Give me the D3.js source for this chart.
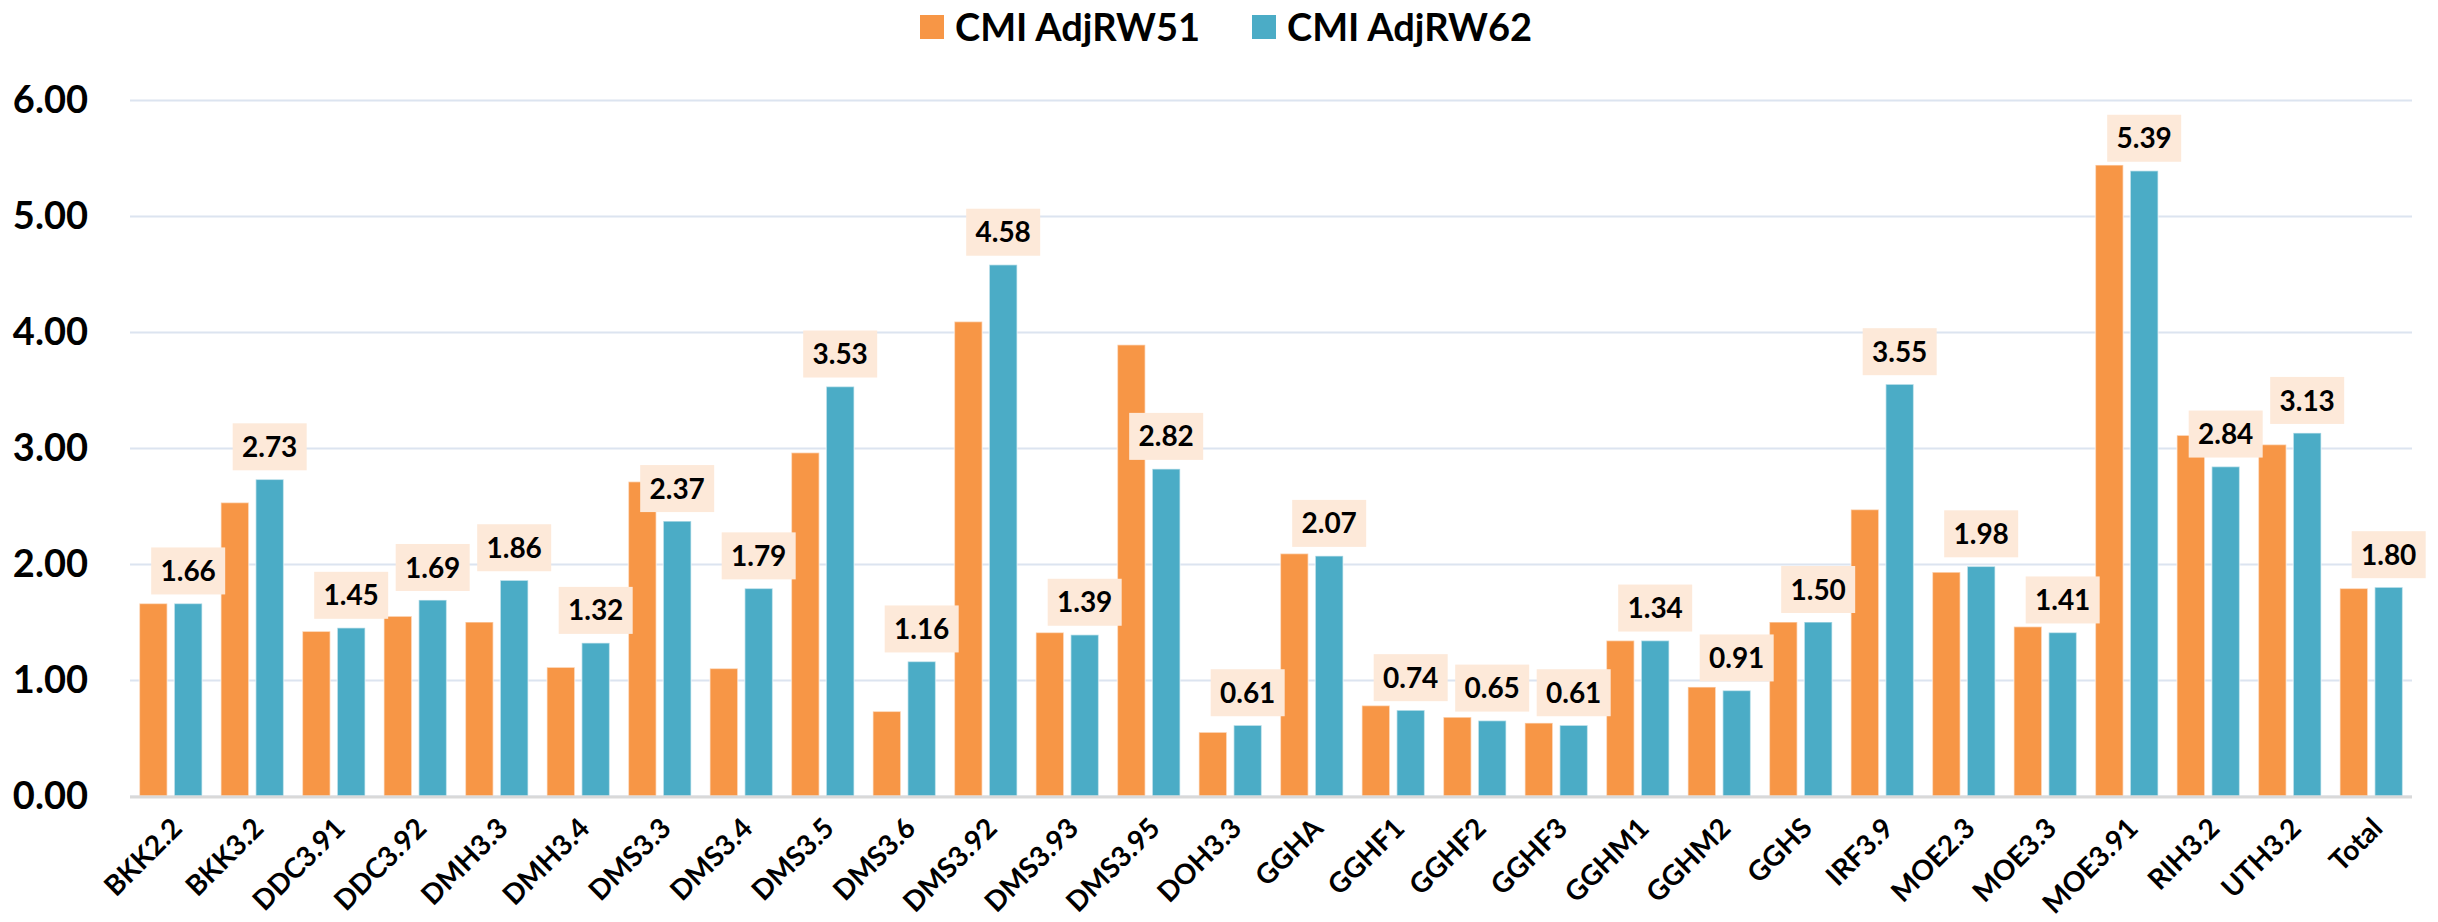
<!DOCTYPE html>
<html lang="en">
<head>
<meta charset="UTF-8">
<title>CMI AdjRW51 vs AdjRW62</title>
<script src="https://d3js.org/d3.v7.min.js"></script>
<style>
  body { margin: 0; background: #fff; }
  text { font-family: Lato, "Open Sans", sans-serif; font-weight: 700; fill: #000; }
</style>
</head>
<body>
<svg id="chart"></svg>
<script>
// data
var categories = ["BKK2.2", "BKK3.2", "DDC3.91", "DDC3.92", "DMH3.3", "DMH3.4", "DMS3.3", "DMS3.4",
  "DMS3.5", "DMS3.6", "DMS3.92", "DMS3.93", "DMS3.95", "DOH3.3", "GGHA", "GGHF1", "GGHF2", "GGHF3",
  "GGHM1", "GGHM2", "GGHS", "IRF3.9", "MOE2.3", "MOE3.3", "MOE3.91", "RIH3.2", "UTH3.2", "Total"];
var adjRW51 = [1.66, 2.53, 1.42, 1.55, 1.50, 1.11, 2.71, 1.10, 2.96, 0.73, 4.09, 1.41, 3.89, 0.55,
  2.09, 0.78, 0.68, 0.63, 1.34, 0.94, 1.50, 2.47, 1.93, 1.46, 5.44, 3.11, 3.03, 1.79];
var adjRW62 = [1.66, 2.73, 1.45, 1.69, 1.86, 1.32, 2.37, 1.79, 3.53, 1.16, 4.58, 1.39, 2.82, 0.61,
  2.07, 0.74, 0.65, 0.61, 1.34, 0.91, 1.50, 3.55, 1.98, 1.41, 5.39, 2.84, 3.13, 1.80];
var seriesNames = ["CMI AdjRW51", "CMI AdjRW62"];
var yTicks = [0, 1, 2, 3, 4, 5, 6];

var W = 2438, H = 922;
var margin = { top: 100, right: 26, bottom: 126, left: 130 };

var colors = { "CMI AdjRW51": "#F79646", "CMI AdjRW62": "#4BACC6" };

var svg = d3.select("#chart").attr("width", W).attr("height", H);

var x0 = d3.scaleBand().domain(categories).range([margin.left, W - margin.right]).padding(0);
var x1 = d3.scaleBand().domain(seriesNames)
  .range([x0.bandwidth() * 0.115, x0.bandwidth() * 0.885]).paddingInner(0.2);
var y = d3.scaleLinear().domain([0, 6]).range([H - margin.bottom, margin.top]);

// gridlines + y labels
var yAxis = svg.append("g")
  .attr("transform", "translate(" + margin.left + ",0)")
  .call(d3.axisLeft(y).tickValues(yTicks).tickFormat(d3.format(".2f"))
    .tickSize(-(W - margin.left - margin.right)).tickPadding(42));
yAxis.select(".domain").remove();
yAxis.selectAll(".tick line").attr("stroke", "#dce4f0").attr("stroke-width", 2);
yAxis.selectAll(".tick text").attr("font-size", 38).attr("font-family", "Lato, sans-serif")
  .attr("font-weight", 700).attr("fill", "#000");

// bars
var rows = categories.map(function (c, i) {
  return { cat: c, vals: [adjRW51[i], adjRW62[i]] };
});

var groups = svg.append("g").selectAll("g")
  .data(rows).enter().append("g")
  .attr("transform", function (d) { return "translate(" + x0(d.cat) + ",0)"; });

groups.selectAll("rect")
  .data(function (d) { return d.vals.map(function (v, k) { return { s: seriesNames[k], v: v }; }); })
  .enter().append("rect")
  .attr("x", function (d) { return x1(d.s); })
  .attr("y", function (d) { return y(d.v); })
  .attr("width", x1.bandwidth())
  .attr("height", function (d) { return y(0) - y(d.v); })
  .attr("fill", function (d) { return colors[d.s]; })
  .attr("stroke", "#ffffff").attr("stroke-opacity", 0.5).attr("stroke-width", 1.5);

// baseline
svg.append("line")
  .attr("x1", margin.left).attr("x2", W - margin.right)
  .attr("y1", y(0) + 1).attr("y2", y(0) + 1)
  .attr("stroke", "#d9d9d9").attr("stroke-width", 3);

// value labels on the AdjRW62 series only
var labels = svg.append("g").selectAll("g")
  .data(rows).enter().append("g")
  .attr("transform", function (d) {
    var cx = x0(d.cat) + x1("CMI AdjRW62") + x1.bandwidth() / 2;
    return "translate(" + cx + "," + (y(d.vals[1]) - 9 - 23.5) + ")";
  });
labels.append("rect")
  .attr("x", -37).attr("y", -23.5).attr("width", 74).attr("height", 47)
  .attr("fill", "#fde9d9");
labels.append("text")
  .attr("text-anchor", "middle").attr("dy", "0.36em")
  .attr("font-size", 28)
  .text(function (d) { return d3.format(".2f")(d.vals[1]); });

// category labels, rotated
svg.append("g").selectAll("text")
  .data(categories).enter().append("text")
  .attr("transform", function (d) {
    return "translate(" + (x0(d) + x0.bandwidth() / 2 + 13) + "," + (y(0) + 34) + ") rotate(-45)";
  })
  .attr("text-anchor", "end")
  .attr("font-size", 28)
  .text(function (d) { return d; });

// legend
var legend = svg.append("g");
var legX = [920, 1252];
seriesNames.forEach(function (s, i) {
  legend.append("rect").attr("x", legX[i]).attr("y", 15).attr("width", 24).attr("height", 24)
    .attr("fill", colors[s]);
  legend.append("text").attr("x", legX[i] + 35).attr("y", 27).attr("dy", "0.36em")
    .attr("font-size", 38).text(s);
});
</script>
</body>
</html>
